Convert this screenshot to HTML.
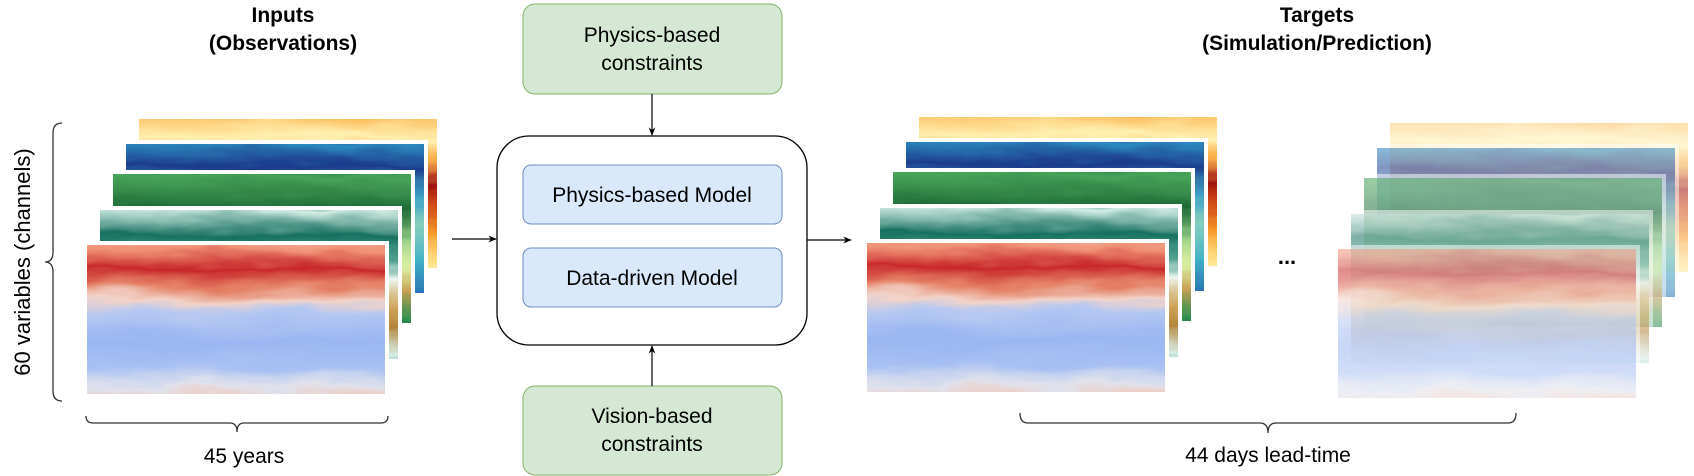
<!DOCTYPE html>
<html>
<head>
<meta charset="utf-8">
<style>
  html,body{margin:0;padding:0;background:#fff;}
  body{width:1694px;height:476px;overflow:hidden;position:relative;font-family:"Liberation Sans",Arial,sans-serif;}
  svg{position:absolute;left:0;top:0;}
</style>
</head>
<body>
<svg id="fig" width="1694" height="476" viewBox="0 0 1694 476" xmlns="http://www.w3.org/2000/svg">
  <defs>
    <marker id="arr" viewBox="0 0 10 10" refX="9" refY="5" markerWidth="7" markerHeight="7" orient="auto">
      <path d="M0,1 L10,5 L0,9 L3,5 z" fill="#000"/>
    </marker>
    <filter id="tex" x="0" y="0" width="100%" height="100%">
      <feTurbulence type="fractalNoise" baseFrequency="0.012 0.05" numOctaves="3" seed="4" result="n"/>
      <feDisplacementMap in="SourceGraphic" in2="n" scale="22" xChannelSelector="R" yChannelSelector="G"/>
    </filter>
  </defs>

  <!-- titles -->
  <text x="283" y="22" font-size="21" font-weight="bold" text-anchor="middle">Inputs</text>
  <text x="283" y="50" font-size="21" font-weight="bold" text-anchor="middle">(Observations)</text>
  <text x="1317" y="22" font-size="21" font-weight="bold" text-anchor="middle">Targets</text>
  <text x="1317" y="50" font-size="21" font-weight="bold" text-anchor="middle">(Simulation/Prediction)</text>

  <g id="maps"></g>

  <!-- left vertical brace -->
  <path d="M62,123 Q53,123 53,133 L53,252 Q53,262 45,262 Q53,262 53,272 L53,391 Q53,401 62,401" fill="none" stroke="#333" stroke-width="1.3"/>
  <text transform="translate(30,262) rotate(-90)" font-size="22" text-anchor="middle">60 variables (channels)</text>

  <!-- bottom braces -->
  <path d="M86,416 Q86,423 93,423 L230,423 Q237,423 237,432 Q237,423 244,423 L381,423 Q388,423 388,416" fill="none" stroke="#333" stroke-width="1.3"/>
  <text x="244" y="463" font-size="21" text-anchor="middle">45 years</text>
  <path d="M1020,413 Q1020,423 1028,423 L1260,423 Q1268,423 1268,433 Q1268,423 1276,423 L1508,423 Q1516,423 1516,413" fill="none" stroke="#333" stroke-width="1.3"/>
  <text x="1268" y="462" font-size="21" text-anchor="middle">44 days lead-time</text>

  <!-- central model box -->
  <rect x="497" y="136" width="310" height="209" rx="32" fill="#fff" stroke="#000" stroke-width="1.3"/>
  <rect x="523" y="165" width="259" height="59" rx="8" fill="#dae8fc" stroke="#6c8ebf" stroke-width="1"/>
  <text x="652" y="202" font-size="21" text-anchor="middle">Physics-based Model</text>
  <rect x="523" y="248" width="259" height="59" rx="8" fill="#dae8fc" stroke="#6c8ebf" stroke-width="1"/>
  <text x="652" y="285" font-size="21" text-anchor="middle">Data-driven Model</text>

  <!-- constraint boxes -->
  <rect x="523" y="4" width="259" height="90" rx="12" fill="#d5e8d4" stroke="#82b366" stroke-width="1"/>
  <text x="652" y="42" font-size="21" text-anchor="middle">Physics-based</text>
  <text x="652" y="70" font-size="21" text-anchor="middle">constraints</text>
  <rect x="523" y="386" width="259" height="89" rx="12" fill="#d5e8d4" stroke="#82b366" stroke-width="1"/>
  <text x="652" y="423" font-size="21" text-anchor="middle">Vision-based</text>
  <text x="652" y="451" font-size="21" text-anchor="middle">constraints</text>

  <!-- arrows -->
  <line x1="652" y1="94" x2="652" y2="135" stroke="#000" stroke-width="1.2" marker-end="url(#arr)"/>
  <line x1="652" y1="386" x2="652" y2="346" stroke="#000" stroke-width="1.2" marker-end="url(#arr)"/>
  <line x1="452" y1="239" x2="496" y2="239" stroke="#000" stroke-width="1.2" marker-end="url(#arr)"/>
  <line x1="807" y1="240" x2="851" y2="240" stroke="#000" stroke-width="1.2" marker-end="url(#arr)"/>

  <text x="1287" y="264" font-size="22" font-weight="bold" text-anchor="middle">...</text>
</svg>
<script>
var NS = 'http://www.w3.org/2000/svg';
var layerNames = ['yellow', 'blue', 'green', 'teal', 'red'];
var layerOffsetsX = [139, 126, 113, 100, 87];
var layerOffsetsY = [119, 144, 174, 210, 245];
var palettes = {
  yellow: [[0,'#f7a234'],[0.1,'#fcc56a'],[0.2,'#fff0b0'],[0.32,'#fbb24e'],[0.45,'#9b1010'],[0.55,'#c83c12'],[0.7,'#f89b2a'],[0.85,'#fee28a'],[1,'#fffad0']],
  blue:   [[0,'#233f94'],[0.1,'#2c8cc0'],[0.22,'#1d3a8c'],[0.38,'#3fa3c6'],[0.55,'#86cfbe'],[0.72,'#41b0c6'],[0.88,'#2a78b6'],[1,'#253494']],
  green:  [[0,'#17703a'],[0.12,'#47a45a'],[0.3,'#1e6a36'],[0.45,'#96cf88'],[0.6,'#d8eea0'],[0.72,'#c89e52'],[0.86,'#2f9150'],[1,'#1a6b35']],
  teal:   [[0,'#0b5e55'],[0.1,'#d4eee6'],[0.24,'#16705f'],[0.36,'#4f9f8e'],[0.48,'#eef7f2'],[0.62,'#cfa55a'],[0.72,'#b3843a'],[0.86,'#d8efe8'],[1,'#48a89a']],
  red:    [[0,'#d24b3e'],[0.04,'#f3b29b'],[0.13,'#f09276'],[0.23,'#c8272a'],[0.32,'#e58166'],[0.4,'#f2d3c8'],[0.47,'#b5c8f2'],[0.62,'#9bb6f2'],[0.76,'#a9c1f3'],[0.85,'#e0e2ec'],[0.92,'#f6c1ad'],[1,'#ee8a70']]
};
var stacks = [
  {name:'input-stack', dx:0, dy:0, op:1},
  {name:'target-stack', dx:780, dy:-2, op:1},
  {name:'future-target-stack', dx:1251, dy:4, op:0.55}
];
var MW = 298, MH = 149;
var defs = document.querySelector('#fig defs');
layerNames.forEach(function(n){
  var lg = document.createElementNS(NS,'linearGradient');
  lg.setAttribute('id','g-'+n);
  lg.setAttribute('x1','0'); lg.setAttribute('y1','0'); lg.setAttribute('x2','0'); lg.setAttribute('y2','1');
  palettes[n].forEach(function(s){
    var st = document.createElementNS(NS,'stop');
    st.setAttribute('offset', s[0]); st.setAttribute('stop-color', s[1]);
    lg.appendChild(st);
  });
  defs.appendChild(lg);
});
var mapsG = document.getElementById('maps');
stacks.forEach(function(s){
  var g = document.createElementNS(NS,'g');
  
  
  layerNames.forEach(function(n,i){
    var x = layerOffsetsX[i] + s.dx, y = layerOffsetsY[i] + s.dy;
    var border = document.createElementNS(NS,'rect');
    border.setAttribute('x', x-4); border.setAttribute('y', y-4);
    border.setAttribute('width', MW+8); border.setAttribute('height', MH+8);
    border.setAttribute('fill', '#fff');
    border.setAttribute('opacity', s.op < 1 ? 0.5 : 1);
    g.appendChild(border);
    var svgm = document.createElementNS(NS,'svg');
    svgm.setAttribute('x', x); svgm.setAttribute('y', y);
    svgm.setAttribute('width', MW); svgm.setAttribute('height', MH);
    
    
    var r = document.createElementNS(NS,'rect');
    r.setAttribute('x', -20); r.setAttribute('y', -20);
    r.setAttribute('width', MW+40); r.setAttribute('height', MH+40);
    r.setAttribute('fill', 'url(#g-'+n+')');
    r.setAttribute('filter', 'url(#tex)');
    r.setAttribute('opacity', s.op);
    svgm.appendChild(r);
    g.appendChild(svgm);
  });
  mapsG.appendChild(g);
});
</script>
</body>
</html>
